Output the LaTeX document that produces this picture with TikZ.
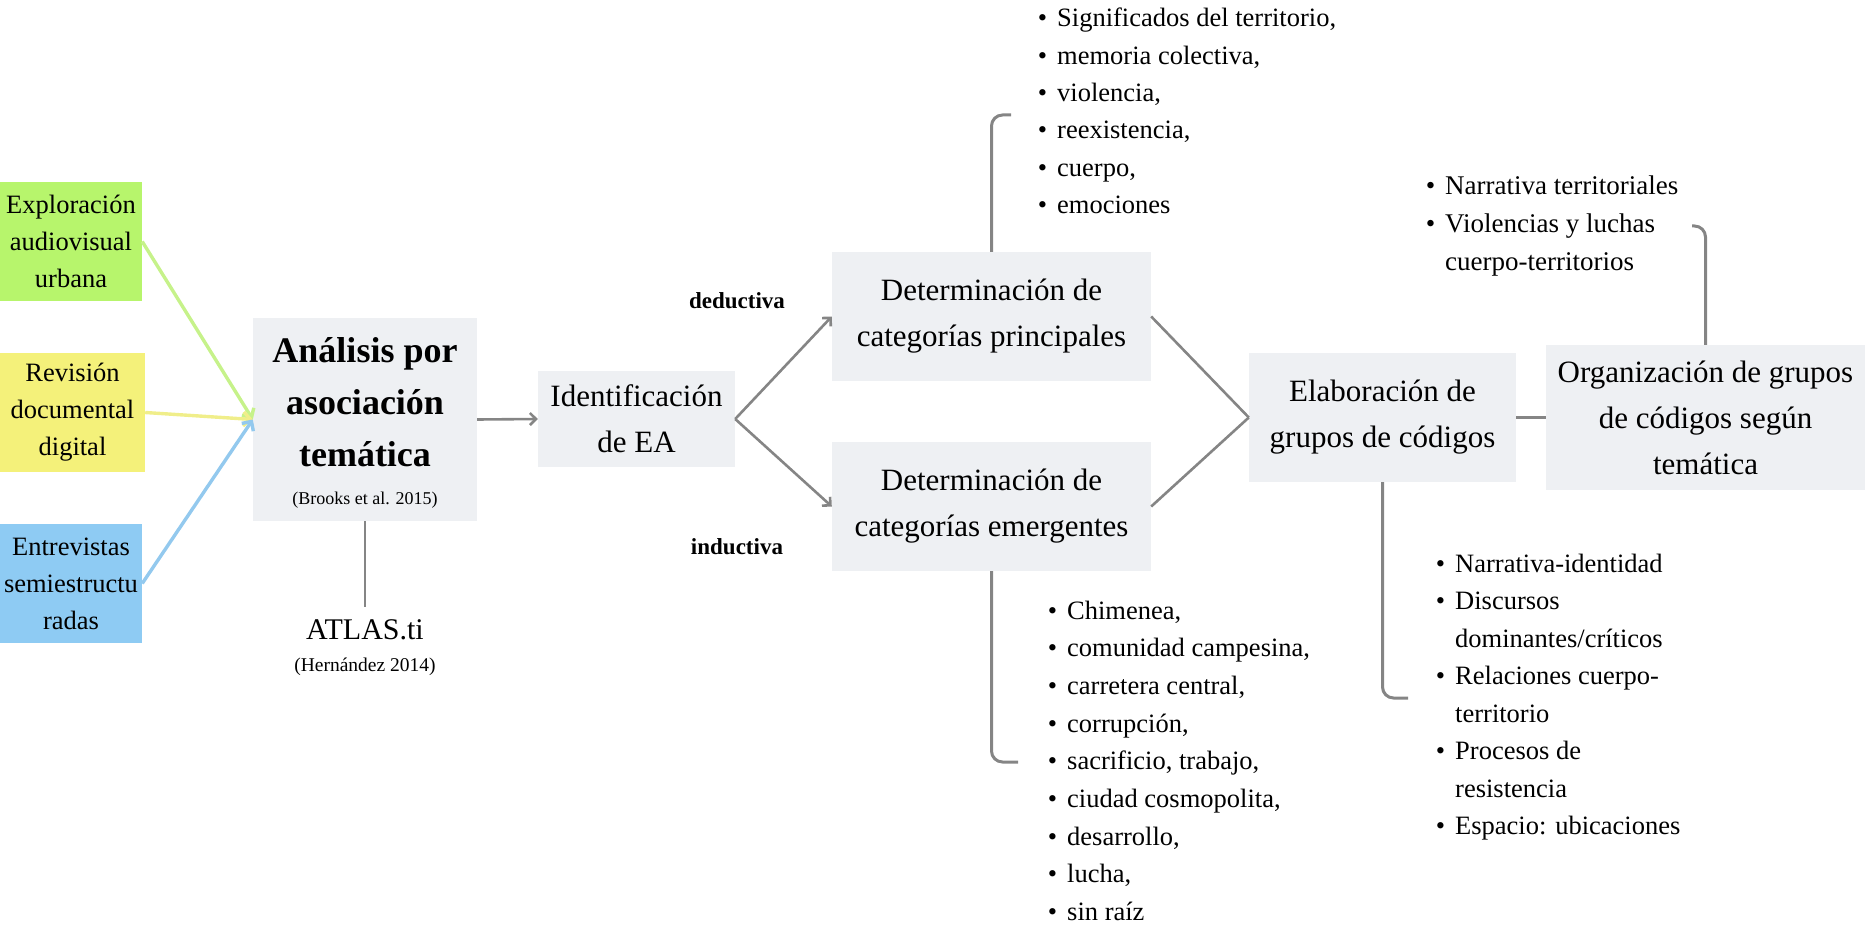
\documentclass[tikz,border=0pt]{standalone}
\usepackage{fontspec}
\setmainfont{Liberation Serif}
\usetikzlibrary{arrows.meta}
\definecolor{boxgray}{HTML}{EEF0F3}
\definecolor{linegray}{HTML}{858585}
\definecolor{lgreen}{HTML}{B7F56C}
\definecolor{lyellow}{HTML}{F4F17A}
\definecolor{lblue}{HTML}{8ECBF3}
\definecolor{agreen}{HTML}{C6F28A}
\definecolor{ayellow}{HTML}{F0EE8A}
\definecolor{ablue}{HTML}{93C9EE}
\tikzset{
  srcbox/.style={inner sep=0pt, align=center, text width=#1, font=\fontsize{26.5}{37}\selectfont},
  graybox/.style={fill=boxgray, inner sep=0pt, align=center, font=\fontsize{31}{46}\selectfont},
  conn/.style={draw=linegray, line width=2.6pt},
  arr/.style={conn, -{Straight Barb[length=6pt,width=12pt,line width=2.6pt]}},
  carr/.style={line width=3.4pt, -{Straight Barb[length=7pt,width=14pt,line width=3.4pt]}},
  brk/.style={draw=linegray, line width=3pt, rounded corners=11pt},
  listtxt/.style={inner sep=0pt, anchor=base west, font=\fontsize{26.5}{37}\selectfont},
  narrtxt/.style={inner sep=0pt, anchor=base west, font=\fontsize{27}{37}\selectfont},
  lbl/.style={inner sep=0pt, font=\bfseries\fontsize{23}{28}\selectfont},
}
\newcommand{\bul}{\llap{\textbullet\hspace{10pt}}}
\begin{document}
\begin{tikzpicture}[x=1pt,y=-1pt]
\useasboundingbox (0,0) rectangle (1865,925);

% source boxes
\node[srcbox=142pt, fill=lgreen, minimum width=142pt, minimum height=119pt] (green) at (71,241.5) {Exploración\\audiovisual\\urbana};
\node[srcbox=145pt, fill=lyellow, minimum width=145pt, minimum height=119pt] (yellow) at (72.5,412.5) {Revisión\\documental\\digital};
\node[srcbox=142pt, fill=lblue, minimum width=142pt, minimum height=119pt] (blue) at (71,583.5) {Entrevistas\\semiestructu\\radas};

% analysis box
\node[fill=boxgray, minimum width=224pt, minimum height=203pt, inner sep=0pt] (analisis) at (365,419.5) {};
\node[inner sep=0pt, align=center, font=\bfseries\fontsize{36}{52}\selectfont] (antitle) at (365,402) {Análisis por\\asociación\\temática};
\node[inner sep=0pt, font=\fontsize{18}{22}\selectfont] (brooks) at (365,500) {(Brooks et al. 2015)};

\node[inner sep=0pt, font=\fontsize{30}{36}\selectfont] (atlas) at (365,630) {ATLAS.ti};
\node[inner sep=0pt, font=\fontsize{19.5}{24}\selectfont] (hern) at (365,667) {(Hernández 2014)};

\node[graybox, minimum width=197pt, minimum height=96pt] (ident) at (636.5,419) {Identificación\\de EA};
\node[graybox, minimum width=319pt, minimum height=129pt] (princ) at (991.5,316.5) {Determinación de\\categorías principales};
\node[graybox, minimum width=319pt, minimum height=129pt] (emerg) at (991.5,506.5) {Determinación de\\categorías emergentes};
\node[graybox, minimum width=267pt, minimum height=129pt] (elab) at (1382.5,417.5) {Elaboración de\\grupos de códigos};
\node[graybox, minimum width=319pt, minimum height=145pt] (org) at (1705.5,417.5) {Organización de grupos\\de códigos según\\temática};

\node[lbl] (ded) at (737,301) {deductiva};
\node[lbl] (ind) at (737,547) {inductiva};

% coloured arrows
\draw[carr, agreen] (green.east) -- (analisis.west);
\draw[carr, ayellow] (yellow.east) -- (analisis.west);
\draw[carr, ablue] (blue.east) -- (analisis.west);

% gray connectors
\draw[arr] (analisis.east) -- (ident.west);
\draw[arr] (ident.east) -- (princ.west);
\draw[arr] (ident.east) -- (emerg.west);
\draw[conn] (princ.east) -- (elab.west);
\draw[conn] (emerg.east) -- (elab.west);
\draw[conn] (elab.east) -- (org.west);
\draw[conn] (analisis.south) -- ([yshift=13pt]atlas.north);

% brackets
\coordinate (ptop) at (1011,115);
\coordinate (pbot) at (1018,762);
\coordinate (ebot) at (1408,698);
\coordinate (otop) at (1692,226);
\draw[brk] (princ.north) |- (ptop);
\draw[brk] (emerg.south) |- (pbot);
\draw[brk] (elab.south) |- (ebot);
\draw[brk] (org.north) |- (otop);

% top list
\foreach \t [count=\i] in {{Significados del territorio,},{memoria colectiva,},{violencia,},{reexistencia,},{cuerpo,},{emociones}}
  \node[listtxt] (tl\i) at (1057,{27+(\i-1)*37.3}) {\bul\t};

% bottom list
\foreach \t [count=\i] in {{Chimenea,},{comunidad campesina,},{carretera central,},{corrupción,},{sacrificio, trabajo,},{ciudad cosmopolita,},{desarrollo,},{lucha,},{sin raíz}}
  \node[listtxt] (bl\i) at (1067,{619+(\i-1)*37.7}) {\bul\t};

% right list
\node[listtxt] (rl1) at (1455,572) {\bul Narrativa-identidad};
\node[listtxt] (rl2) at (1455,609.5) {\bul Discursos};
\node[listtxt] (rl3) at (1455,647) {dominantes/críticos};
\node[listtxt] (rl4) at (1455,684.5) {\bul Relaciones cuerpo-};
\node[listtxt] (rl5) at (1455,722) {territorio};
\node[listtxt] (rl6) at (1455,759.5) {\bul Procesos de};
\node[listtxt] (rl7) at (1455,797) {resistencia};
\node[listtxt] (rl8) at (1455,834.5) {\bul Espacio: ubicaciones};

% narrative list
\node[narrtxt] (nl1) at (1445,195) {\bul Narrativa territoriales};
\node[narrtxt] (nl2) at (1445,233) {\bul Violencias y luchas};
\node[narrtxt] (nl3) at (1445,270) {cuerpo-territorios};
\end{tikzpicture}
\end{document}
